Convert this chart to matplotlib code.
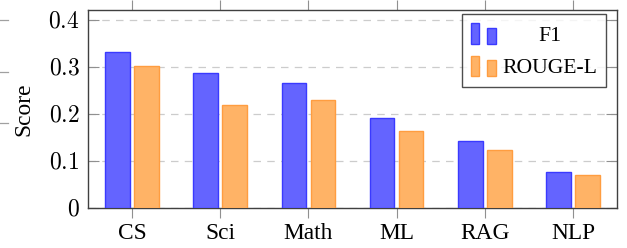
import numpy as np
import matplotlib
matplotlib.use("Agg")
import matplotlib.pyplot as plt
from matplotlib.patches import Rectangle
from matplotlib.legend_handler import HandlerBase
from matplotlib.lines import Line2D

categories = ["CS", "Sci", "Math", "ML", "RAG", "NLP"]
f1 = [0.331, 0.288, 0.266, 0.192, 0.142, 0.077]
rouge_l = [0.302, 0.219, 0.229, 0.163, 0.123, 0.070]
yticks = [0, 0.1, 0.2, 0.3, 0.4]
ytick_labels = ["$0$", "$0.1$", "$0.2$", "$0.3$", "$0.4$"]

plt.rcParams["font.family"] = ["Liberation Serif", "DejaVu Serif"]
plt.rcParams["mathtext.fontset"] = "cm"

BLUE_FILL, BLUE_EDGE = "#6464ff", "#3a3aff"
ORANGE_FILL, ORANGE_EDGE = "#ffb366", "#ff9d40"


class TwoBarHandler(HandlerBase):
    # pgfplots style bar legend image: two small bars
    def create_artists(self, legend, orig_handle, xdescent, ydescent,
                       width, height, fontsize, trans):
        fc = orig_handle.get_facecolor()
        ec = orig_handle.get_edgecolor()
        bw = width * 0.34
        r1 = Rectangle((-xdescent, -ydescent), bw, height, fc=fc, ec=ec, lw=1, transform=trans)
        r2 = Rectangle((-xdescent + width * 0.64, -ydescent), bw, height * 0.77,
                       fc=fc, ec=ec, lw=1, transform=trans)
        return [r1, r2]


fig = plt.figure(figsize=(6.27, 2.48), dpi=100)
ax = fig.add_axes([88 / 627, 40 / 248, 529 / 627, 198 / 248])

x = np.arange(len(categories))
w = 0.28
off = 0.165
b1 = ax.bar(x - off, f1, w, color=BLUE_FILL, edgecolor=BLUE_EDGE, linewidth=1, label="F1", zorder=3)
b2 = ax.bar(x + off, rouge_l, w, color=ORANGE_FILL, edgecolor=ORANGE_EDGE, linewidth=1, label="ROUGE-L", zorder=3)

ax.set_xlim(-0.5, 5.5)
ax.set_ylim(0, 0.421)
ax.set_xticks(x)
ax.set_xticklabels(categories, fontsize=16.8)
ax.set_yticks(yticks)
ax.set_yticklabels(ytick_labels, fontsize=17)
ax.set_ylabel("Score", fontsize=16.8, labelpad=10)

ax.tick_params(axis="x", direction="out", top=True, bottom=True, length=7.5,
               width=0.8, color="#909090", pad=3)
ax.tick_params(axis="y", direction="in", left=True, right=True, length=8,
               width=0.8, color="#909090", pad=6)
ax.grid(axis="y", color="#cccccc", linestyle=(0, (6, 5)), linewidth=0.9, zorder=0)
for s in ax.spines.values():
    s.set_color("#404040")
    s.set_linewidth(1.0)

leg = ax.legend(handler_map={type(b1.patches[0]): TwoBarHandler()},
                handles=[b1.patches[0], b2.patches[0]], labels=["F1", "ROUGE-L"],
                loc="upper right", bbox_to_anchor=((606 - 88) / 529, (208 - 14) / 198),
                borderaxespad=0, fancybox=False, fontsize=15.6, frameon=True,
                handlelength=1.2, handleheight=1.1, handletextpad=0.25,
                labelspacing=0.45, borderpad=0.42)
leg.get_frame().set_edgecolor("#202020")
leg.get_frame().set_linewidth(1.0)
leg.set_zorder(5)

# center "F1" within the text column, as pgfplots does
fig.canvas.draw()
rend = fig.canvas.get_renderer()
t1, t2 = leg.get_texts()
dx = (t2.get_window_extent(rend).width - t1.get_window_extent(rend).width) / 2
t1.set_position((dx, 0))

# stray tick marks at the left edge of the crop
for yp in [20, 72, 123]:
    fig.add_artist(Line2D([0, 8 / 627], [1 - yp / 248] * 2, color="#a0a0a0", lw=0.9))

fig.savefig("out.png", dpi=100)
